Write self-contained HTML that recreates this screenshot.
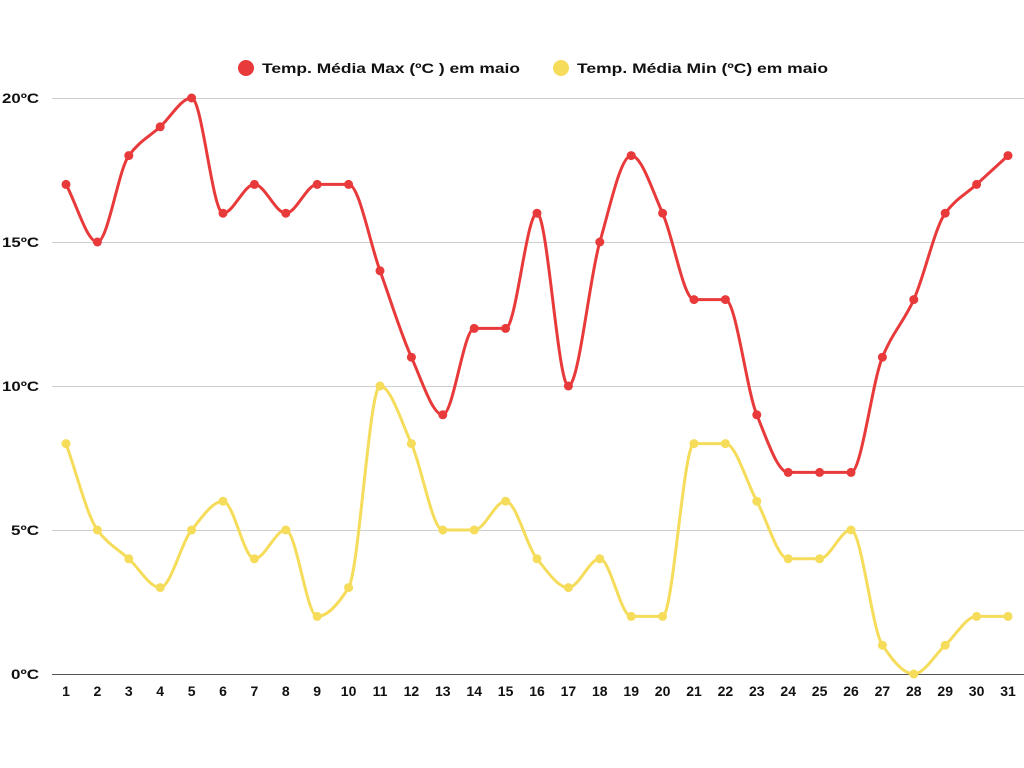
<!DOCTYPE html>
<html><head><meta charset="utf-8"><style>
html,body{margin:0;padding:0;background:#fff;}
svg{display:block;font-family:"Liberation Sans",sans-serif;}
</style></head><body>
<svg id="c" width="1024" height="768" xmlns="http://www.w3.org/2000/svg">
<g stroke="#cfcfcf" stroke-width="1">
<line x1="52" x2="1024" y1="98.5" y2="98.5"/>
<line x1="52" x2="1024" y1="242.5" y2="242.5"/>
<line x1="52" x2="1024" y1="386.5" y2="386.5"/>
<line x1="52" x2="1024" y1="530.5" y2="530.5"/>
</g>
<line x1="52" x2="1024" y1="674.5" y2="674.5" stroke="#555" stroke-width="1"/>
<g font-size="14" font-weight="bold" fill="#111" text-anchor="start">
<text x="2" y="103" textLength="37" lengthAdjust="spacingAndGlyphs">20ºC</text>
<text x="2" y="247" textLength="37" lengthAdjust="spacingAndGlyphs">15ºC</text>
<text x="2" y="391" textLength="37" lengthAdjust="spacingAndGlyphs">10ºC</text>
<text x="11" y="535" textLength="28" lengthAdjust="spacingAndGlyphs">5ºC</text>
<text x="11" y="679" textLength="28" lengthAdjust="spacingAndGlyphs">0ºC</text>
</g>
<circle cx="246" cy="68" r="8" fill="#e83a3a"/>
<text x="262" y="73" font-size="14" font-weight="bold" fill="#111" textLength="258" lengthAdjust="spacingAndGlyphs">Temp. Média Max (ºC ) em maio</text>
<circle cx="561" cy="68" r="8" fill="#f5dc5a"/>
<text x="577" y="73" font-size="14" font-weight="bold" fill="#111" textLength="251" lengthAdjust="spacingAndGlyphs">Temp. Média Min (ºC) em maio</text>
<g id="xl" font-size="14" font-weight="bold" fill="#111" text-anchor="middle"></g>
<g id="series"></g>
</svg>
<script>
var mx=[17,15,18,19,20,16,17,16,17,17,14,11,9,12,12,16,10,15,18,16,13,13,9,7,7,7,11,13,16,17,18];
var mn=[8,5,4,3,5,6,4,5,2,3,10,8,5,5,6,4,3,4,2,2,8,8,6,4,4,5,1,0,1,2,2];
var NS="http://www.w3.org/2000/svg";
function X(i){return 66+i*31.4;}function Y(v){return 674-v*28.8;}
var xl=document.getElementById('xl');
for(var i=0;i<31;i++){var t=document.createElementNS(NS,'text');t.setAttribute('x',X(i));t.setAttribute('y',696);t.textContent=i+1;xl.appendChild(t);}
var g=document.getElementById('series');
function draw(d,col){
 var n=d.length,h=31.4,y=d.map(Y),del=[],m=[];
 for(var i=0;i<n-1;i++)del.push((y[i+1]-y[i])/h);
 m[0]=del[0];m[n-1]=del[n-2];
 for(var i=1;i<n-1;i++){ if(del[i-1]*del[i]<=0)m[i]=0; else m[i]=2/(1/del[i-1]+1/del[i]); }
 var s="M"+X(0)+","+y[0];
 for(var i=0;i<n-1;i++){
  s+=" C"+(X(i)+h/3)+","+(y[i]+m[i]*h/3)+" "+(X(i+1)-h/3)+","+(y[i+1]-m[i+1]*h/3)+" "+X(i+1)+","+y[i+1];
 }
 var path=document.createElementNS(NS,'path');path.setAttribute('d',s);path.setAttribute('fill','none');path.setAttribute('stroke',col);path.setAttribute('stroke-width','3');g.appendChild(path);
 for(var i=0;i<n;i++){var c=document.createElementNS(NS,'circle');c.setAttribute('cx',X(i));c.setAttribute('cy',y[i]);c.setAttribute('r',4.5);c.setAttribute('fill',col);g.appendChild(c);}
}
draw(mn,'#f5dc5a');draw(mx,'#e83a3a');
</script>
</body></html>
